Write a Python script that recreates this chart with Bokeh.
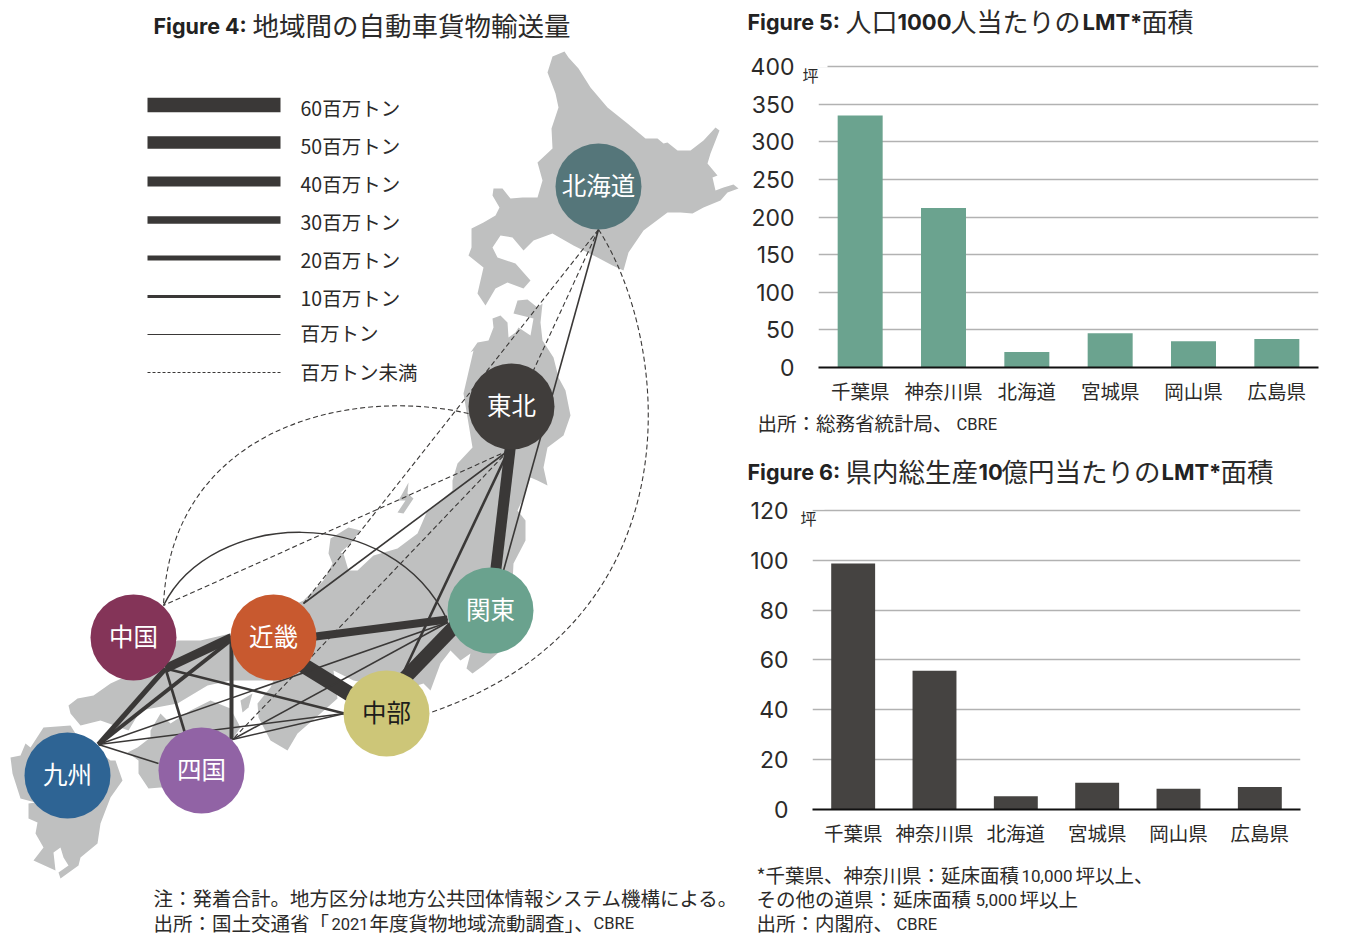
from bokeh.plotting import figure
from bokeh.layouts import row, column
from bokeh.models import Range1d, FactorRange, FixedTicker, Label, BoxAnnotation, LinearAxis
from bokeh.core.properties import value
from bokeh.embed import file_html
from bokeh.resources import INLINE

JP = "Noto Sans CJK JP"
LAT = "Inter"
RB = "Roboto"
INK = "#2b2a29"
LINK = "#3a3837"

# ---- data ----
prefs = ["千葉県", "神奈川県", "北海道", "宮城県", "岡山県", "広島県"]
lmt_per_pop = [335, 212, 20.5, 45.5, 35, 38]
lmt_per_gdp = [98.7, 55.7, 5.3, 10.7, 8.3, 9]
ticks5 = [0, 50, 100, 150, 200, 250, 300, 350, 400]
ticks6 = [0, 20, 40, 60, 80, 100, 120]

regions = ["北海道", "東北", "関東", "中部", "近畿", "中国", "九州", "四国"]
region_x = [598, 511, 490, 386, 273, 133, 67, 201]
region_y = [186, 406, 610, 713, 637, 637, 775, 770]
region_col = ["#55767a", "#403d3b", "#6aa28e", "#cdc678", "#c8592f", "#843458", "#2e6494", "#9163a5"]
region_txt = ["white", "white", "white", "#1d1d1b", "white", "white", "white", "white"]

legend_labels = ["60百万トン", "50百万トン", "40百万トン", "30百万トン", "20百万トン", "10百万トン", "百万トン", "百万トン未満"]
legend_y = [104.5, 142, 181, 219.5, 257.5, 296, 334, 372]
legend_ty = [108, 146, 184, 222, 260, 298, 333, 372]
legend_w = [14.5, 12.5, 10, 7.5, 5, 3, 1, 1]

# outlines of the islands
hokkaido = [(564,51),(552,56),(547,72),(555,93),(558,107),(551,128),(552,148),(537,162),(542,180),(537,197),(522,197),(510,198),(502,188),(493,188),(492,195),(499,207),(495,215),(483,222),(471,228),(471,247),(468,255),(483,267),(477,293),(485,305),(495,288),(507,282),(523,288),(530,280),(515,263),(497,257),(492,247),(500,235),(512,237),(523,250),(533,240),(552,233),(573,245),(597,257),(612,265),(623,270),(628,252),(643,230),(667,212),(680,212),(692,213),(703,207),(720,200),(727,192),(738,188),(733,184),(723,187),(715,190),(712,177),(717,175),(707,163),(710,153),(719,130),(715,127),(703,140),(690,150),(677,150),(667,142),(663,143),(657,138),(645,138),(627,123),(607,107),(590,87),(578,68),(568,57)]
honshu = [(492,318),(500,315),(507,322),(508,337),(515,332),(518,327),(530,335),(533,318),(513,313),(517,300),(527,299),(537,307),(542,303),(540,322),(542,340),(553,357),(558,377),(565,390),(570,415),(563,435),(547,447),(543,467),(547,485),(537,480),(530,477),(523,497),(517,510),(525,520),(525,540),(513,563),(510,620),(497,653),(483,665),(472,673),(466,668),(470,653),(460,660),(450,650),(440,663),(430,690),(423,683),(400,690),(353,680),(333,670),(337,698),(320,713),(297,733),(287,750),(270,740),(258,717),(257,703),(270,687),(273,680),(247,680),(230,680),(207,685),(177,703),(140,710),(128,730),(100,720),(80,725),(70,713),(68,705),(77,698),(93,695),(110,683),(123,677),(177,640),(200,640),(230,633),(270,615),(303,600),(323,580),(332,563),(328,553),(330,538),(348,527),(360,530),(350,543),(340,552),(343,553),(348,570),(357,570),(373,555),(397,548),(417,533),(427,510),(435,505),(452,490),(452,480),(457,463),(472,447),(463,393),(473,350),(470,352),(477,342),(488,340),(493,327)]
sado = [(408,482),(398,500),(405,500),(397,512),(403,513),(413,498),(407,493)]
awaji = [(240,700),(252,693),(248,707),(242,712)]
shikoku = [(150,730),(160,713),(170,723),(190,710),(210,700),(230,708),(240,727),(233,737),(220,790),(160,787),(148,788),(138,773),(138,760),(127,752),(137,747),(150,737)]
kyushu = [(43,727),(70,725),(75,733),(110,760),(115,760),(122,780),(110,797),(100,823),(97,843),(80,857),(78,865),(60,878),(58,872),(68,865),(63,857),(60,847),(53,852),(55,870),(33,860),(43,847),(35,833),(37,822),(28,818),(28,803),(35,802),(20,798),(12,773),(10,757),(20,755),(25,743),(30,747)]
islands = [hokkaido, honshu, sado, awaji, shikoku, kyushu]

# straight flows: from, to, width, dash
flows = [
    ((598,229),(303,603),1.1,True), ((598,229),(532,372),1.1,True), ((598,229),(503,570),1.6,False),
    ((508,450),(163,605),1.1,True), ((508,450),(232,739),1.1,True), ((508,450),(303,603),1.6,False),
    ((508,450),(403,672),2.6,False), ((510,445),(495,572),11,False),
    ((315,636),(447,619),8,False), ((290,657),(355,697),15,False), ((400,682),(456,624),14,False),
    ((165,668),(231,637),9,False), ((165,668),(98,744),5,False), ((230,640),(98,744),4,False),
    ((231,640),(231,739),4,False), ((165,668),(184,731),2.6,False), ((165,668),(344,713),2.6,False),
    ((98,744),(158,763),1.6,False), ((98,744),(447,622),1.5,False), ((98,744),(344,713),1.5,False),
    ((232,739),(344,713),1.5,False), ((232,739),(447,622),1.5,False),
]
# curved flows: start, control 1, control 2, end, width, dash
arcs = [
    ((598,229),(670,340),(700,620),(430,712),1.1,True),
    ((468,413),(345,385),(170,430),(163,605),1.1,True),
    ((163,605),(210,510),(390,500),(447,620),1.5,False),
]

def base(width, height, x_range, y_range, **kw):
    p = figure(width=width, height=height, x_range=x_range, y_range=y_range, frame_align=False,
               toolbar_location=None, output_backend="svg", **kw)
    p.outline_line_color = None
    p.background_fill_color = "white"
    p.border_fill_color = "white"
    return p

def put(p, x, y, text, size="19.5px", font=JP, style="normal", color=INK):
    if font == JP:
        y -= 1.5
    p.add_layout(Label(x=x, y=y, text=text, text_font=font, text_font_size=size, text_font_style=style,
                       text_color=color, text_baseline="middle", text_align="left", level="overlay"))

def strip(y0, y1):
    s = base(606, y1-y0, Range1d(740, 1346), Range1d(y1, y0), min_border=0)
    s.axis.visible = False
    s.grid.visible = False
    return s

# ---- map ----
m = base(740, 942, Range1d(0, 740), Range1d(942, 0), min_border=0)
m.axis.visible = False
m.grid.visible = False
m.patches([[q[0] for q in s] for s in islands], [[q[1] for q in s] for s in islands],
          fill_color="#bfc0c0", line_color=None)
for a, b, w, d in flows:
    m.line([a[0], b[0]], [a[1], b[1]], line_color=LINK, line_width=w, line_dash="5 3" if d else "solid")
for s, c0, c1, e, w, d in arcs:
    m.bezier(x0=[s[0]], y0=[s[1]], cx0=[c0[0]], cy0=[c0[1]], cx1=[c1[0]], cy1=[c1[1]], x1=[e[0]], y1=[e[1]],
             line_color=LINK, line_width=w, line_dash="5 3" if d else "solid")
m.circle(region_x, region_y, radius=43, fill_color=region_col, line_color=None)
m.text(region_x, region_y, text=regions, text_color=region_txt, text_font=value(JP), y_offset=-2,
       text_font_size="24.5px", text_align="center", text_baseline="middle")
for lab, y, ty, w in zip(legend_labels, legend_y, legend_ty, legend_w):
    m.line([147, 280], [y, y], line_color="#3a3837", line_width=w, line_dash="3 2" if lab.endswith("未満") else "solid")
    put(m, 300, ty, lab)
put(m, 153, 25.5, "Figure 4:", "21.5px", LAT, "bold", "#222222")
put(m, 252, 25, "地域間の自動車貨物輸送量", "26.5px")
put(m, 153, 898, "注：発着合計。地方区分は地方公共団体情報システム機構による。")
put(m, 153, 923, "出所：国土交通省「")
put(m, 331, 923, "2021", "16.5px", RB)
put(m, 369, 923, "年度貨物地域流動調査」、")
put(m, 593, 923, "CBRE", "16.5px", RB)

# ---- bars ----
def bars(values, ticks, ymax, bar_color, frame_w, left, top, bottom, height, gap_to, unit_tick, unit_standoff, num_standoff):
    p = base(606, height, FactorRange(*prefs, factor_padding=0, range_padding=0), Range1d(0, ymax),
             min_border_left=left, min_border_right=606-left-frame_w, min_border_top=top, min_border_bottom=bottom)
    p.frame_width = frame_w
    p.frame_height = height-top-bottom
    p.xgrid.visible = False
    p.ygrid.grid_line_color = "#b2b2b2"
    p.ygrid.grid_line_width = 1.6
    p.ygrid.ticker = FixedTicker(ticks=ticks)
    p.vbar(x=prefs, top=values, width=0.54, fill_color=bar_color, line_color=None)
    numbers = p.yaxis[0]
    numbers.ticker = FixedTicker(ticks=ticks)
    numbers.axis_line_color = None
    numbers.major_tick_line_color = None
    numbers.major_tick_out = 0
    numbers.minor_tick_line_color = None
    numbers.major_label_standoff = num_standoff
    numbers.major_label_text_font = LAT
    numbers.major_label_text_font_size = "23px"
    numbers.major_label_text_color = INK
    unit = LinearAxis(ticker=FixedTicker(ticks=[unit_tick]), major_label_overrides={unit_tick: "坪"},
                      axis_line_color=None, major_tick_line_color=None, minor_tick_line_color=None,
                      major_tick_out=0, major_label_standoff=unit_standoff,
                      major_label_text_font=JP, major_label_text_font_size="16px", major_label_text_color=INK)
    p.left = [unit, numbers]
    p.xaxis.axis_line_color = "#111111"
    p.xaxis.axis_line_width = 2
    p.xaxis.major_tick_line_color = None
    p.xaxis.major_label_standoff = 2
    p.xaxis.major_label_text_font = JP
    p.xaxis.major_label_text_font_size = "19.5px"
    p.xaxis.major_label_text_color = INK
    p.xaxis.major_label_orientation = "horizontal"
    # the top gridline stops short, leaving room for the unit
    p.add_layout(BoxAnnotation(left=left-1, right=left+gap_to, top_units="canvas", bottom_units="canvas",
                               left_units="canvas", right_units="canvas", top=top, bottom=top+4,
                               fill_color="white", fill_alpha=1, line_color=None))
    return p

s5 = strip(0, 45)
put(s5, 747, 21.5, "Figure 5:", "21.5px", LAT, "bold", "#222222")
put(s5, 845, 21, "人口", "26px")
put(s5, 897, 21.5, "1000", "22px", LAT, "bold", "#222222")
put(s5, 950, 21, "人当たりの", "26px")
put(s5, 1082, 21.5, "LMT*", "22px", LAT, "bold", "#222222")
put(s5, 1141, 21, "面積", "26px")

f5 = bars(lmt_per_pop, ticks5, 404, "#6ba38f", 500, 78, 18, 40, 362, 9, 389, 0, 5)

s56 = strip(407, 490)
put(s56, 757, 423, "出所：総務省統計局、")
put(s56, 956, 424, "CBRE", "16.5px", RB)
put(s56, 747, 471.5, "Figure 6:", "21.5px", LAT, "bold", "#222222")
put(s56, 845, 471, "県内総生産", "26.5px")
put(s56, 978, 471.5, "10", "22px", LAT, "bold", "#222222")
put(s56, 1001, 471, "億円当たりの", "26.5px")
put(s56, 1161, 471.5, "LMT*", "22px", LAT, "bold", "#222222")
put(s56, 1220, 471, "面積", "26.5px")

f6 = bars(lmt_per_gdp, ticks6, 122, "#454341", 488, 72, 15, 41, 360, 12, 117, -4, 9)

s6 = strip(850, 942)
put(s6, 756, 875, "*千葉県、神奈川県：延床面積")
put(s6, 1021, 875, "10,000", "17px", RB)
put(s6, 1075, 875, "坪以上、")
put(s6, 756, 899, "その他の道県：延床面積")
put(s6, 975, 899, "5,000", "17px", RB)
put(s6, 1019, 899, "坪以上")
put(s6, 756, 923, "出所：内閣府、")
put(s6, 896, 924, "CBRE", "16.5px", RB)

layout = row(m, column(s5, f5, s56, f6, s6, spacing=0), spacing=0)
open("out.html", "w").write(file_html(layout, INLINE))
